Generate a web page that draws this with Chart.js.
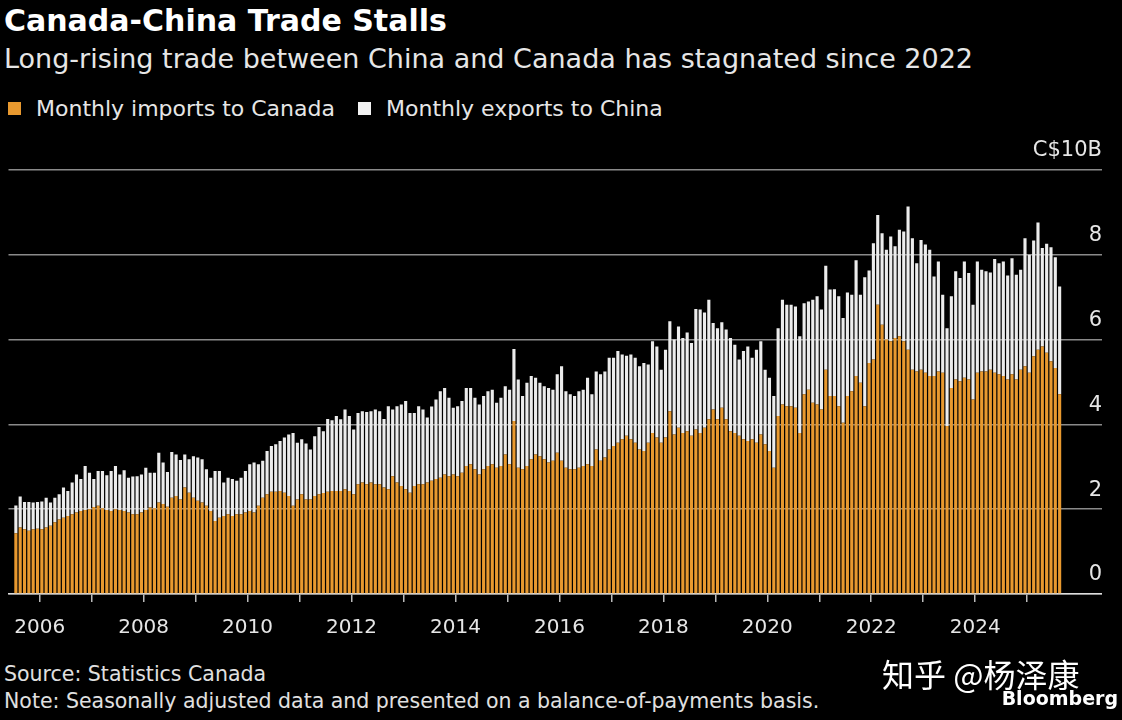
<!DOCTYPE html>
<html>
<head>
<meta charset="utf-8">
<script src="https://cdn.jsdelivr.net/npm/chart.js@4.4.1/dist/chart.umd.min.js"></script>
<style>
  body { margin: 0; background: #000; width: 1122px; height: 720px; overflow: hidden; font-family: "DejaVu Sans", sans-serif; color: #fff; position: relative; }
  .t { position: absolute; white-space: nowrap; }
  #title { left: 4px; top: 3px; font-size: 30px; font-weight: bold; }
  #sub { left: 4px; top: 43px; font-size: 27px; color: #e6e6e6; }
  .leg { top: 96px; font-size: 22px; color: #e6e6e6; }
  .sw { display: inline-block; width: 13px; height: 13px; margin-right: 15px; vertical-align: 1px; }
  #wrap { position: absolute; left: 0; top: 140px; width: 1102px; height: 514px; }
  .foot { left: 4px; font-size: 20.5px; color: #e0e0e0; }
</style>
</head>
<body>
<div class="t" id="title">Canada-China Trade Stalls</div>
<div class="t" id="sub">Long-rising trade between China and Canada has stagnated since 2022</div>
<div class="t leg" style="left:8px"><span class="sw" style="background:#e8992f"></span>Monthly imports to Canada</div>
<div class="t leg" style="left:358px"><span class="sw" style="background:#f2f2f2"></span>Monthly exports to China</div>
<div id="wrap"><canvas id="c"></canvas></div>
<div class="t foot" style="top:662px">Source: Statistics Canada</div>
<div class="t foot" style="top:689px">Note: Seasonally adjusted data and presented on a balance-of-payments basis.</div>
<div class="t" style="left:882px; top:650px; font-size:32px; font-family:'Noto Sans CJK SC'">知乎 @杨泽康</div>
<div class="t" style="right:4px; top:687px; font-size:19px; font-weight:bold">Bloomberg</div>
<script>
// first month in the series: July 2005, last: August 2025
const startYear = 2005;
const startMonth = 7;

// monthly imports to Canada from China, C$ billions
const imports = [
  1.43,1.57,1.53,1.49,1.53,1.54,1.53,1.57,1.61,1.69,1.76,1.80,
  1.84,1.88,1.92,1.96,1.98,2.00,2.05,2.08,2.02,1.98,1.96,2.00,
  1.98,1.96,1.92,1.88,1.88,1.92,1.98,2.04,2.02,2.16,2.12,2.06,
  2.27,2.31,2.23,2.51,2.39,2.27,2.20,2.16,2.08,1.96,1.72,1.80,
  1.84,1.88,1.84,1.88,1.88,1.92,1.96,1.92,2.08,2.27,2.35,2.41,
  2.41,2.43,2.39,2.31,2.08,2.23,2.35,2.23,2.23,2.31,2.35,2.38,
  2.41,2.43,2.43,2.43,2.47,2.43,2.35,2.59,2.63,2.59,2.63,2.59,
  2.59,2.51,2.47,2.78,2.63,2.55,2.47,2.39,2.55,2.59,2.59,2.63,
  2.67,2.71,2.74,2.82,2.78,2.82,2.78,2.86,3.02,3.06,2.94,2.82,
  2.94,3.02,3.06,2.98,3.02,3.29,3.06,4.08,2.98,2.94,3.02,3.18,
  3.29,3.25,3.18,3.10,3.14,3.33,3.14,2.98,2.94,2.94,2.98,3.02,
  3.06,3.02,3.41,3.14,3.22,3.41,3.49,3.57,3.65,3.73,3.65,3.57,
  3.41,3.37,3.57,3.80,3.69,3.57,3.69,4.31,3.76,3.92,3.80,3.84,
  3.73,3.88,3.80,3.92,4.12,4.35,4.12,4.39,4.12,3.84,3.80,3.73,
  3.65,3.61,3.65,3.57,3.76,3.53,3.37,2.98,4.20,4.47,4.43,4.43,
  4.39,3.80,4.71,4.82,4.51,4.47,4.35,5.29,4.67,4.67,4.43,4.04,
  4.67,4.78,5.14,4.98,4.43,5.45,5.53,6.82,6.35,6.00,5.96,6.04,
  6.08,5.96,5.76,5.29,5.25,5.29,5.22,5.14,5.14,5.25,5.22,3.96,
  4.86,5.06,5.02,5.10,5.06,4.59,5.22,5.25,5.25,5.29,5.22,5.18,
  5.14,5.06,5.18,5.06,5.29,5.37,5.22,5.61,5.76,5.84,5.69,5.49,
  5.33,4.71
];

// total monthly trade (imports + exports), C$ billions
const totals = [
  2.09,2.30,2.17,2.17,2.16,2.17,2.18,2.27,2.16,2.27,2.35,2.51,
  2.43,2.63,2.82,2.71,3.02,2.86,2.71,2.90,2.90,2.80,2.90,3.02,
  2.82,2.92,2.74,2.77,2.78,2.82,2.98,2.86,2.86,3.33,3.10,2.88,
  3.35,3.29,3.16,3.29,3.18,3.25,3.22,3.18,2.94,2.74,2.90,2.90,
  2.63,2.74,2.71,2.67,2.74,2.90,3.06,3.10,3.06,3.14,3.37,3.49,
  3.53,3.61,3.69,3.76,3.80,3.57,3.65,3.55,3.41,3.72,3.94,3.84,
  4.13,4.10,4.20,4.12,4.35,4.20,3.88,4.27,4.31,4.29,4.31,4.35,
  4.31,4.13,4.43,4.35,4.43,4.47,4.55,4.27,4.27,4.43,4.35,4.16,
  4.42,4.59,4.78,4.86,4.63,4.39,4.43,4.55,4.86,4.86,4.63,4.47,
  4.67,4.78,4.82,4.51,4.63,4.90,4.82,5.78,5.06,4.67,4.98,5.14,
  5.10,4.98,4.90,4.86,4.82,5.18,5.37,4.78,4.71,4.67,4.78,4.82,
  5.10,4.71,5.25,5.18,5.25,5.57,5.57,5.73,5.65,5.62,5.65,5.57,
  5.37,5.45,5.41,5.96,5.84,5.29,5.76,6.43,6.00,6.31,6.04,6.17,
  5.92,6.72,6.71,6.64,6.94,6.39,6.27,6.41,6.24,6.04,5.88,5.53,
  5.73,5.84,5.57,5.76,5.96,5.29,5.10,4.67,6.27,6.94,6.82,6.82,
  6.78,6.08,6.86,6.90,6.94,7.02,6.71,7.74,7.18,7.19,7.02,6.51,
  7.11,7.06,7.87,7.06,7.47,7.63,8.27,8.94,8.51,8.12,8.43,8.20,
  8.59,8.55,9.14,8.39,7.80,8.35,8.24,8.12,7.49,7.84,7.06,6.27,
  7.02,7.61,7.45,7.84,7.57,6.82,7.84,7.65,7.61,7.58,7.90,7.80,
  7.84,7.51,7.92,7.53,7.65,8.39,8.00,8.34,8.76,8.16,8.26,8.18,
  7.94,7.25
];

const yTicks = [0, 2, 4, 6, 8, 10];
const yearLabels = [2006, 2008, 2010, 2012, 2014, 2016, 2018, 2020, 2022, 2024];

// month position on a decimal-year axis (middle of each month)
const xPos = imports.map((_, i) => startYear + (startMonth - 1) / 12 + (i + 0.5) / 12);
const importPts = imports.map((v, i) => ({ x: xPos[i], y: v }));
const exportPts = totals.map((v, i) => ({ x: xPos[i], y: +(v - imports[i]).toFixed(2) }));

const orange = '#e8992f';
const white = '#ececec';

new Chart(document.getElementById('c'), {
  type: 'bar',
  data: {
    datasets: [
      { label: 'Monthly imports to Canada', data: importPts, backgroundColor: orange, barPercentage: 0.72, categoryPercentage: 1 },
      { label: 'Monthly exports to China', data: exportPts, backgroundColor: white, barPercentage: 0.72, categoryPercentage: 1 }
    ]
  },
  options: {
    responsive: true,
    maintainAspectRatio: false,
    animation: false,
    layout: { padding: { top: 30, left: 8, right: 0, bottom: 0 } },
    plugins: { legend: { display: false }, tooltip: { enabled: false } },
    scales: {
      x: {
        type: 'linear',
        stacked: true,
        offset: false,
        min: 2005.4,
        max: 2026.44,
        afterBuildTicks: (axis) => {
          const t = [];
          for (let y = 2006; y <= 2025; y++) t.push({ value: y });
          axis.ticks = t;
        },
        ticks: {
          autoSkip: false,
          maxRotation: 0,
          color: '#e6e6e6',
          font: { family: 'DejaVu Sans', size: 20 },
          padding: 14,
          callback: (v) => yearLabels.includes(v) ? String(v) : ''
        },
        grid: { drawOnChartArea: false, offset: false, color: '#bbb', tickLength: 8, lineWidth: 1.5 },
        border: { color: '#ddd', width: 1.5 }
      },
      y: {
        stacked: true,
        position: 'right',
        min: 0,
        max: 10,
        afterBuildTicks: (axis) => { axis.ticks = yTicks.map(v => ({ value: v })); },
        ticks: {
          mirror: true,
          padding: 0,
          labelOffset: -19,
          color: '#e6e6e6',
          font: { family: 'DejaVu Sans', size: 21 },
          callback: (v) => v === 10 ? 'C$10B' : String(v)
        },
        grid: { color: '#8a8a8a', lineWidth: 1.5, drawTicks: false },
        border: { display: false }
      }
    }
  }
});
</script>
</body>
</html>
